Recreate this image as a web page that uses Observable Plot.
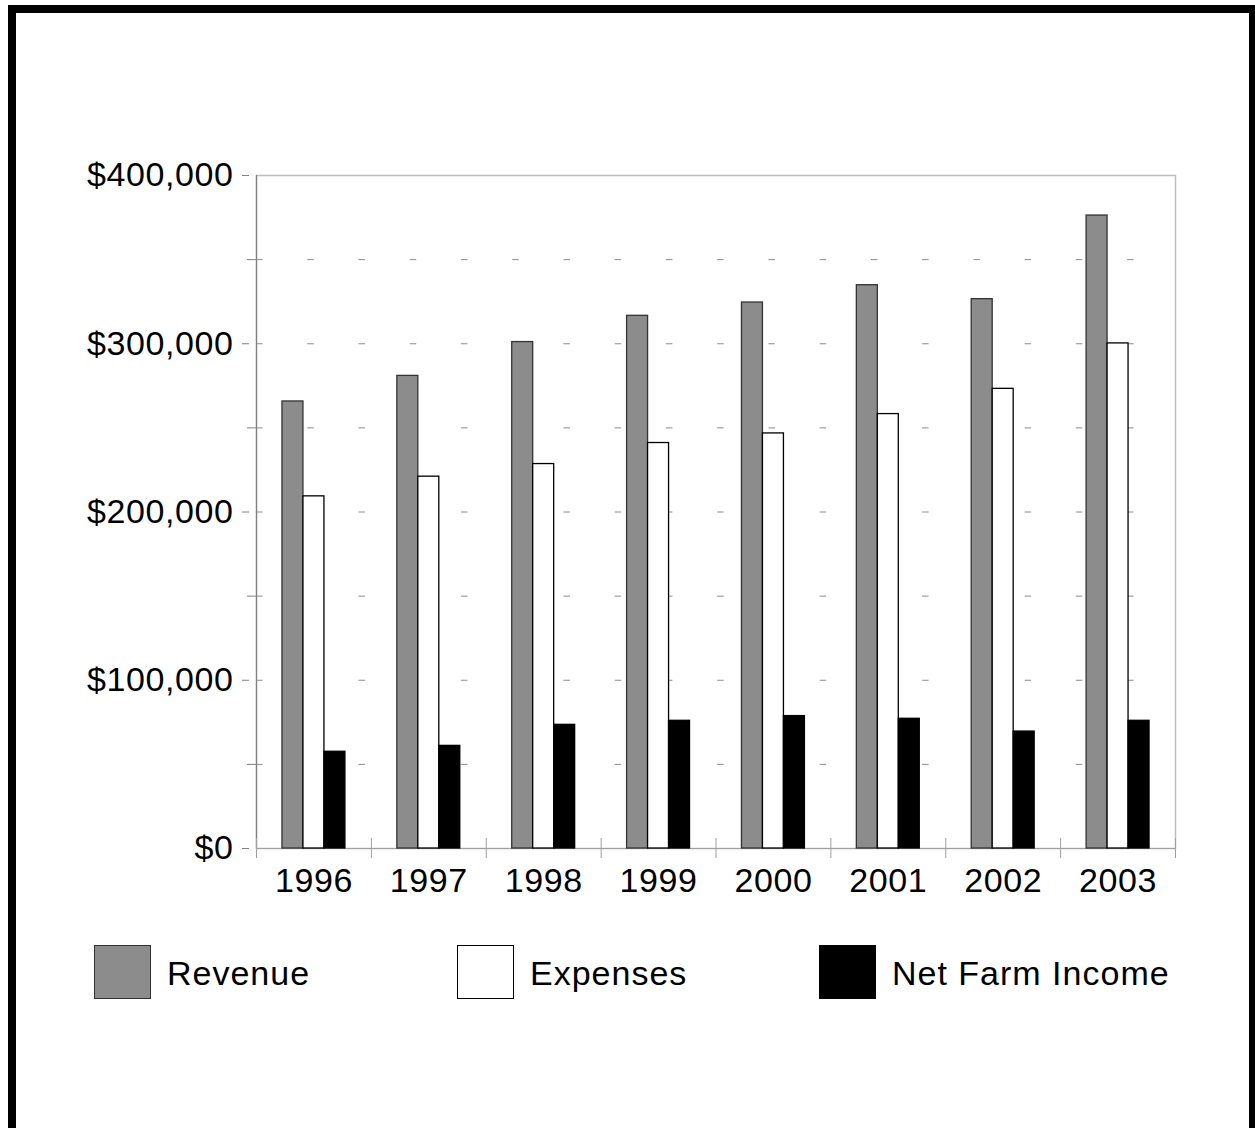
<!DOCTYPE html>
<html>
<head>
<meta charset="utf-8">
<script src="https://cdn.jsdelivr.net/npm/d3@7"></script>
<script src="https://cdn.jsdelivr.net/npm/@observablehq/plot@0.6"></script>
<style>
  html, body { margin: 0; padding: 0; background: #fff; overflow: hidden; }
  #page { position: relative; width: 1255px; height: 1128px; overflow: hidden;
          font-family: "Liberation Sans", Arial, sans-serif; }
  #border { position: absolute; left: 8px; top: 5px; width: 1249px; height: 1300px;
            box-sizing: border-box; border: 8px solid #000; }
  #chart { position: absolute; left: 0; top: 0; }
  #chart text { letter-spacing: 0.6px; }
  .sw { position: absolute; width: 57px; height: 54px; box-sizing: border-box; }
  .lt { position: absolute; font-size: 34px; line-height: 34px; letter-spacing: 1px; color: #000; white-space: nowrap; }
</style>
</head>
<body>
<div id="page">
  <div id="border"></div>
  <div id="chart"></div>
  <div id="legend"></div>
</div>
<script>
// ---- data ----
const years = [1996, 1997, 1998, 1999, 2000, 2001, 2002, 2003];
const seriesNames = ["Revenue", "Expenses", "Net Farm Income"];
const revenue  = [265700, 280900, 301000, 316600, 324500, 334800, 326500, 376200];
const expenses = [209300, 221000, 228500, 241000, 246700, 258200, 273200, 300200];
const netIncome = [57500, 61000, 73500, 75900, 78700, 77100, 69500, 75900];
const yMajorTicks = [0, 100000, 200000, 300000, 400000];
const yGridValues = [50000, 100000, 150000, 200000, 250000, 300000, 350000];
const yMinorTicks = [50000, 150000, 250000, 350000];

// ---- styles ----
const fills = ["#8c8c8c", "#ffffff", "#000000"];
const strokes = ["#333333", "#000000", "#000000"];
const groupFraction = 0.548; // share of each year slot taken by its 3 bars

const seriesValues = [revenue, expenses, netIncome];
const table = [];
years.forEach((yr, i) => {
  seriesNames.forEach((s, k) => {
    table.push({year: yr, series: s, k, value: seriesValues[k][i]});
  });
});
const boundaries = [...years.map(y => y - 0.5), years[years.length - 1] + 0.5];
const barW = groupFraction / 3;

const chart = Plot.plot({
  width: 1255,
  height: 910,
  marginLeft: 256,
  marginRight: 80,
  marginTop: 175,
  marginBottom: 62,
  style: {fontFamily: '"Liberation Sans", Arial, sans-serif', fontSize: "34px", background: "transparent", color: "#000"},
  x: {type: "linear", domain: [boundaries[0], boundaries[boundaries.length - 1]]},
  y: {domain: [0, 400000]},
  color: {domain: seriesNames, range: fills},
  marks: [
    Plot.ruleY(yGridValues, {stroke: "#8c8c8c", strokeWidth: 1, strokeDasharray: "6.5,44.74"}),
    Plot.frame({stroke: "#bdbdbd", strokeWidth: 1.5}),
    Plot.ruleY([0], {stroke: "#a0a0a0", strokeWidth: 1.2}),
    Plot.ruleX([boundaries[0]], {stroke: "#808080", strokeWidth: 1.2}),
    Plot.axisX({ticks: boundaries, tickSize: 20, dy: -10, tickFormat: () => "", stroke: "#a0a0a0", label: null}),
    Plot.axisX({ticks: years, tickSize: 0, tickPadding: 19, tickFormat: d => String(d), fontSize: 34, fill: "#000", label: null}),
    Plot.axisY({ticks: yMajorTicks, tickSize: 7, dx: -7, tickPadding: 9, tickFormat: d3.format("$,"), fontSize: 34, fill: "#000", stroke: "#808080", label: null}),
    Plot.axisY({ticks: yMinorTicks, tickSize: 9, tickFormat: () => "", stroke: "#808080", label: null}),
    Plot.rectY(table, {
      x1: d => d.year - groupFraction / 2 + d.k * barW,
      x2: d => d.year - groupFraction / 2 + (d.k + 1) * barW,
      y1: 0,
      y2: "value",
      fill: "series",
      stroke: d => strokes[d.k],
      strokeWidth: 1.3
    })
  ]
});
document.getElementById("chart").appendChild(chart);

// ---- legend ----
const legendX = [94, 457, 819];
const legend = document.getElementById("legend");
seriesNames.forEach((s, k) => {
  const sw = document.createElement("div");
  sw.className = "sw";
  sw.style.left = legendX[k] + "px";
  sw.style.top = "945px";
  sw.style.background = fills[k];
  sw.style.border = "1.5px solid " + strokes[k];
  legend.appendChild(sw);
  const t = document.createElement("div");
  t.className = "lt";
  t.style.left = (legendX[k] + 73) + "px";
  t.style.top = "956px";
  t.textContent = s;
  legend.appendChild(t);
});
</script>
</body>
</html>
